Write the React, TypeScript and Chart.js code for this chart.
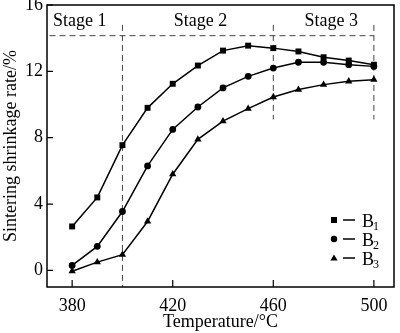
import React, { useEffect, useRef } from "react";
import { Chart, registerables } from "chart.js";

Chart.register(...registerables);

const temperatures = [380, 390, 400, 410, 420, 430, 440, 450, 460, 470, 480, 490, 500];
const b1 = [2.65, 4.4, 7.55, 9.8, 11.25, 12.35, 13.25, 13.55, 13.4, 13.2, 12.85, 12.65, 12.4];
const b2 = [0.3, 1.45, 3.55, 6.3, 8.5, 9.85, 11.0, 11.7, 12.2, 12.55, 12.55, 12.4, 12.3];
const b3 = [-0.05, 0.5, 0.95, 2.95, 5.8, 7.9, 9.0, 9.75, 10.45, 10.9, 11.2, 11.4, 11.5];
const seriesBase = ["B", "B", "B"];
const seriesSub = ["1", "2", "3"];
const seriesStyles = ["rect", "circle", "triangle"];
const seriesRadius = [4.2, 3.4, 4.2];

const xTicks = [380, 420, 460, 500];
const yTicks = [0, 4, 8, 12, 16];
const xRange = [370, 508];
const yRange = [-1, 16];

const stageNames = ["Stage 1", "Stage 2", "Stage 3"];
const stageLabelX = [383, 431, 483];
const stageLabelY = 15;
const stageBoundaries = [400, 460, 500];
const boundaryTop = 14.8;
const boundaryBottoms = [-1, 9.1, 9.1];
const stageLineY = 14.15;
const stageLineX = [371, 500];

const FONT = '"Liberation Serif", "Times New Roman", serif';

const decor = {
  id: "decor",
  afterDraw(chart: any) {
    const { ctx, chartArea: a, scales } = chart;
    const x = scales.x;
    const y = scales.y;
    ctx.save();
    ctx.strokeStyle = "#000";
    ctx.fillStyle = "#000";
    // frame
    ctx.lineWidth = 1.5;
    ctx.strokeRect(a.left, a.top, a.right - a.left, a.bottom - a.top);
    // inward ticks
    ctx.lineWidth = 1.2;
    ctx.beginPath();
    xTicks.forEach((v) => {
      const px = x.getPixelForValue(v);
      ctx.moveTo(px, a.bottom);
      ctx.lineTo(px, a.bottom - 7);
    });
    yTicks.forEach((v) => {
      const py = y.getPixelForValue(v);
      ctx.moveTo(a.left, py);
      ctx.lineTo(a.left + 6, py);
    });
    ctx.stroke();
    // stage labels
    ctx.font = `18px ${FONT}`;
    ctx.textAlign = "center";
    ctx.textBaseline = "middle";
    stageNames.forEach((s, i) => {
      ctx.fillText(s, x.getPixelForValue(stageLabelX[i]), y.getPixelForValue(stageLabelY));
    });
    // legend
    const mx = a.right - 60;
    const rows = [a.bottom - 66, a.bottom - 47, a.bottom - 28];
    seriesStyles.forEach((st, i) => {
      const ry = rows[i];
      const my = ry - 1;
      ctx.beginPath();
      if (st === "rect") {
        ctx.rect(mx - 3, my - 3, 6, 6);
      } else if (st === "circle") {
        ctx.arc(mx, my, 3.2, 0, Math.PI * 2);
      } else {
        ctx.moveTo(mx, my - 3.6);
        ctx.lineTo(mx + 3.6, my + 2.6);
        ctx.lineTo(mx - 3.6, my + 2.6);
        ctx.closePath();
      }
      ctx.fill();
      ctx.lineWidth = 1.5;
      ctx.beginPath();
      ctx.moveTo(mx + 9, my);
      ctx.lineTo(mx + 21, my);
      ctx.stroke();
      ctx.textAlign = "left";
      ctx.textBaseline = "middle";
      ctx.font = `18px ${FONT}`;
      ctx.fillText(seriesBase[i], mx + 28, ry + 1);
      ctx.font = `12px ${FONT}`;
      ctx.fillText(seriesSub[i], mx + 39, ry + 6);
    });
    ctx.restore();
  },
};

export default function App() {
  const ref = useRef<HTMLCanvasElement | null>(null);
  useEffect(() => {
    if (!ref.current) return;
    const mk = (vals: number[]) => temperatures.map((t, i) => ({ x: t, y: vals[i] }));
    const seriesData = [b1, b2, b3];
    const datasets: any[] = seriesData.map((vals, i) => ({
      label: seriesBase[i] + seriesSub[i],
      data: mk(vals),
      showLine: true,
      borderColor: "#000",
      borderWidth: 1.5,
      pointStyle: seriesStyles[i],
      pointRadius: seriesRadius[i],
      pointBackgroundColor: "#000",
      pointBorderColor: "#000",
      pointBorderWidth: 0,
      order: 1,
    }));
    const dashStyle = {
      showLine: true,
      borderColor: "#444",
      borderWidth: 1,
      borderDash: [6, 4],
      pointRadius: 0,
      order: 2,
    };
    datasets.push({
      ...dashStyle,
      label: "stage-h",
      data: stageLineX.map((v) => ({ x: v, y: stageLineY })),
    });
    stageBoundaries.forEach((b, i) => {
      datasets.push({
        ...dashStyle,
        label: "stage-v" + i,
        data: [
          { x: b, y: boundaryTop },
          { x: b, y: boundaryBottoms[i] },
        ],
      });
    });
    const chart = new Chart(ref.current, {
      type: "scatter",
      data: { datasets },
      options: {
        animation: false,
        responsive: false,
        devicePixelRatio: 1,
        layout: { padding: { top: 5, right: 6, left: 0, bottom: 0 } },
        plugins: { legend: { display: false }, tooltip: { enabled: false } },
        scales: {
          x: {
            type: "linear",
            min: xRange[0],
            max: xRange[1],
            grid: { display: false, drawTicks: false },
            border: { display: false },
            afterBuildTicks: (s: any) => {
              s.ticks = xTicks.map((v) => ({ value: v }));
            },
            afterFit: (s: any) => {
              s.height = 46;
              s.paddingLeft = 0;
              s.paddingRight = 0;
            },
            ticks: {
              color: "#000",
              padding: 8,
              maxRotation: 0,
              font: { family: FONT, size: 18 },
            },
            title: {
              display: true,
              text: "Temperature/°C",
              color: "#000",
              font: { family: FONT, size: 18 },
              padding: { top: 0, bottom: 0 },
            },
          },
          y: {
            type: "linear",
            min: yRange[0],
            max: yRange[1],
            grid: { display: false, drawTicks: false },
            border: { display: false },
            afterBuildTicks: (s: any) => {
              s.ticks = yTicks.map((v) => ({ value: v }));
            },
            afterFit: (s: any) => {
              s.width = 47;
              s.paddingTop = 0;
              s.paddingBottom = 0;
            },
            ticks: {
              color: "#000",
              padding: 4,
              font: { family: FONT, size: 18 },
            },
            title: {
              display: true,
              text: "Sintering shrinkage rate/%",
              color: "#000",
              font: { family: FONT, size: 18 },
              padding: { top: 0, bottom: 0 },
            },
          },
        },
      },
      plugins: [decor],
    });
    return () => chart.destroy();
  }, []);
  return (
    <div style={{ position: "absolute", left: 0, top: 0, width: 400, height: 333, background: "#fff" }}>
      <canvas ref={ref} width={400} height={333} />
    </div>
  );
}
